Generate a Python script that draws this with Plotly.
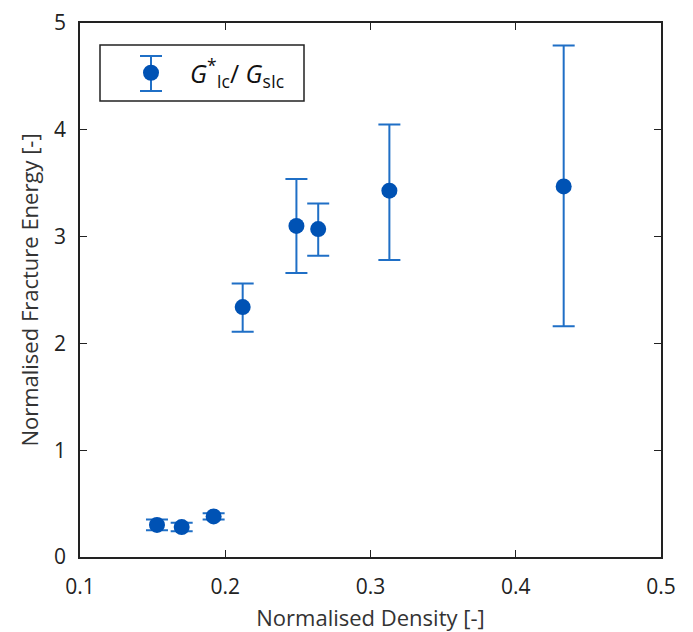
import plotly.graph_objects as go

density = [0.153, 0.170, 0.192, 0.212, 0.249, 0.264, 0.313, 0.433]
energy = [0.30, 0.28, 0.38, 2.34, 3.10, 3.07, 3.43, 3.47]
err_plus = [0.05, 0.04, 0.03, 0.22, 0.44, 0.24, 0.62, 1.32]
err_minus = [0.05, 0.04, 0.03, 0.23, 0.44, 0.25, 0.65, 1.31]

x_ticks = [0.1, 0.2, 0.3, 0.4, 0.5]
y_ticks = [0, 1, 2, 3, 4, 5]

FONT = "Open Sans"
MARK = "#0052b4"
ERR = "#1f6fc6"

# plot area in pixels: x 80..661, y 23..557
L, R, T, B = 80, 32, 23, 75
W, H = 693, 632
pw, ph = W - L - R, H - T - B


def px(x):
    return (x - L) / pw


def py(y):
    return (H - B - y) / ph


fig = go.Figure()
fig.add_trace(go.Scatter(
    x=density, y=energy, mode="markers",
    name="<i>G</i><sup>*</sup><sub>Ic</sub>/ <i>G</i><sub>sIc</sub>",
    marker=dict(size=16, color=MARK),
    error_y=dict(type="data", symmetric=False, array=err_plus, arrayminus=err_minus,
                 color=ERR, thickness=2, width=11),
))

axis_common = dict(
    showgrid=False, zeroline=False, showline=True, linecolor="#222", linewidth=1.5,
    mirror="ticks", ticks="inside", ticklen=7, tickcolor="#222", tickwidth=1.2,
    tickfont=dict(family=FONT, size=21, color="#222"), automargin=False,
)

# legend box and the error-bar glyph of the legend symbol
shapes = [
    dict(type="rect", xref="paper", yref="paper", x0=px(100), x1=px(304), y0=py(101), y1=py(45),
         line=dict(color="#222", width=1.5), fillcolor="rgba(0,0,0,0)", layer="above"),
    dict(type="line", xref="paper", yref="paper", x0=px(151), x1=px(151), y0=py(91), y1=py(56),
         line=dict(color=ERR, width=2), layer="below"),
    dict(type="line", xref="paper", yref="paper", x0=px(140), x1=px(162), y0=py(56), y1=py(56),
         line=dict(color=ERR, width=2), layer="below"),
    dict(type="line", xref="paper", yref="paper", x0=px(140), x1=px(162), y0=py(91), y1=py(91),
         line=dict(color=ERR, width=2), layer="below"),
]

fig.update_layout(
    width=W, height=H,
    margin=dict(l=L, r=R, t=T, b=B),
    plot_bgcolor="white", paper_bgcolor="white",
    xaxis=dict(range=[0.1, 0.5], tickvals=x_ticks, ticktext=[str(v) for v in x_ticks],
               ticklabelstandoff=10,
               title=dict(text="Normalised Density [-]", font=dict(family=FONT, size=22, color="#333"), standoff=16),
               **axis_common),
    yaxis=dict(range=[0, 5], tickvals=y_ticks, ticktext=[str(v) for v in y_ticks],
               ticklabelstandoff=8,
               title=dict(text="Normalised Fracture Energy [-]", font=dict(family=FONT, size=22, color="#333"), standoff=9),
               **axis_common),
    shapes=shapes,
    showlegend=True,
    legend=dict(x=px(112), y=py(73), xanchor="left", yanchor="middle",
                borderwidth=0, bgcolor="rgba(0,0,0,0)",
                font=dict(family=FONT, size=25, color="#111"),
                itemwidth=68, tracegroupgap=0),
)

fig.write_html("out.html")
